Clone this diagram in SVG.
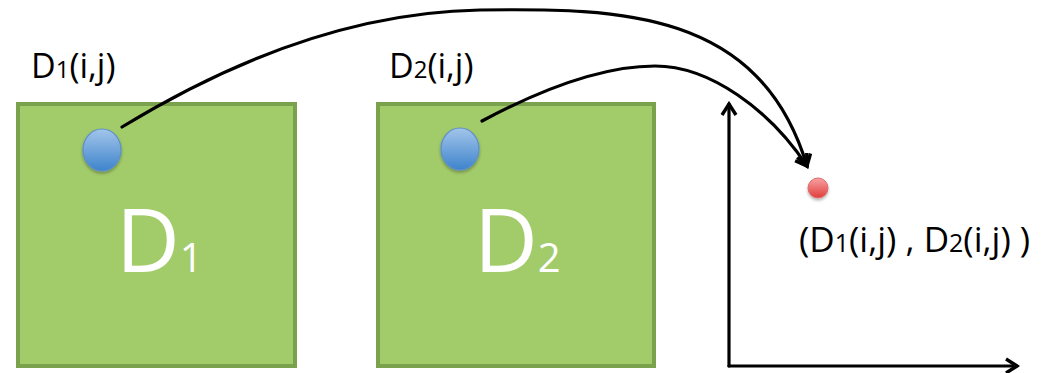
<svg xmlns="http://www.w3.org/2000/svg" width="1042" height="373" viewBox="0 0 1042 373">
  <defs>
    <style>
      .box { fill: #a2cb6a; stroke: #7aa24c; stroke-width: 4; }
      .lbl { font-family: "Open Sans", "Liberation Sans", sans-serif; fill: #000000; }
      .big { font-family: "Open Sans", "Liberation Sans", sans-serif; fill: #ffffff; }
      .pt { fill: url(#blueGrad); stroke: #5b8fcb; stroke-width: 1.2; filter: url(#sh); }
      .conn { fill: none; stroke: #000000; stroke-width: 3.2; stroke-linecap: round; }
    </style>
    <linearGradient id="blueGrad" x1="0" y1="0" x2="0" y2="1">
      <stop offset="0" stop-color="#a3c5ea"/>
      <stop offset="1" stop-color="#3e84cc"/>
    </linearGradient>
    <linearGradient id="redGrad" x1="0" y1="0" x2="0" y2="1">
      <stop offset="0" stop-color="#f6a3a3"/>
      <stop offset="1" stop-color="#e23c3c"/>
    </linearGradient>
    <filter id="sh" x="-50%" y="-50%" width="200%" height="200%">
      <feDropShadow dx="0" dy="2" stdDeviation="1.5" flood-color="#000000" flood-opacity="0.3"/>
    </filter>
    <marker id="arr" markerUnits="userSpaceOnUse" markerWidth="18" markerHeight="18" viewBox="0 0 18 18" refX="15" refY="9" orient="auto">
      <path d="M4,2 L15,9 L4,16" fill="none" stroke="#000000" stroke-width="3.4" stroke-linejoin="miter"/>
    </marker>
  </defs>

  <g id="box-d1">
    <rect class="box" x="18" y="104" width="277" height="262"/>
    <text class="big" x="116" y="272" font-size="88">D<tspan font-size="40">1</tspan></text>
  </g>
  <g id="label-d1">
    <text class="lbl" x="31" y="78" font-size="34">D<tspan font-size="24">1</tspan>(i,j)</text>
  </g>
  <g id="point-d1">
    <ellipse class="pt" cx="102" cy="150" rx="19" ry="21"/>
  </g>

  <g id="box-d2">
    <rect class="box" x="378" y="104" width="276" height="262"/>
    <text class="big" x="474" y="272" font-size="88">D<tspan font-size="40">2</tspan></text>
  </g>
  <g id="label-d2">
    <text class="lbl" x="389" y="78" font-size="34">D<tspan font-size="24">2</tspan>(i,j)</text>
  </g>
  <g id="point-d2">
    <ellipse class="pt" cx="460" cy="149" rx="19" ry="21"/>
  </g>

  <g id="result-point">
    <circle cx="818" cy="188" r="10" fill="url(#redGrad)" stroke="#e06a6a" stroke-width="1" filter="url(#sh)"/>
    <text class="lbl" x="799" y="252" font-size="35">(D<tspan font-size="25">1</tspan>(i,j) , D<tspan font-size="25">2</tspan>(i,j) )</text>
  </g>

  <g id="axes">
    <path class="conn" d="M729,366 L729,104" marker-end="url(#arr)"/>
    <path class="conn" d="M729,366 L1017,366" marker-end="url(#arr)"/>
  </g>

  <g id="connectors">
    <path class="conn" d="M122,127 C240,55 360,12 480,10 C620,8 760,10 807,166" marker-end="url(#arr)"/>
    <path class="conn" d="M482,121 C540,90 600,66 655,66 C710,66 770,110 807,166" marker-end="url(#arr)"/>
  </g>
</svg>
